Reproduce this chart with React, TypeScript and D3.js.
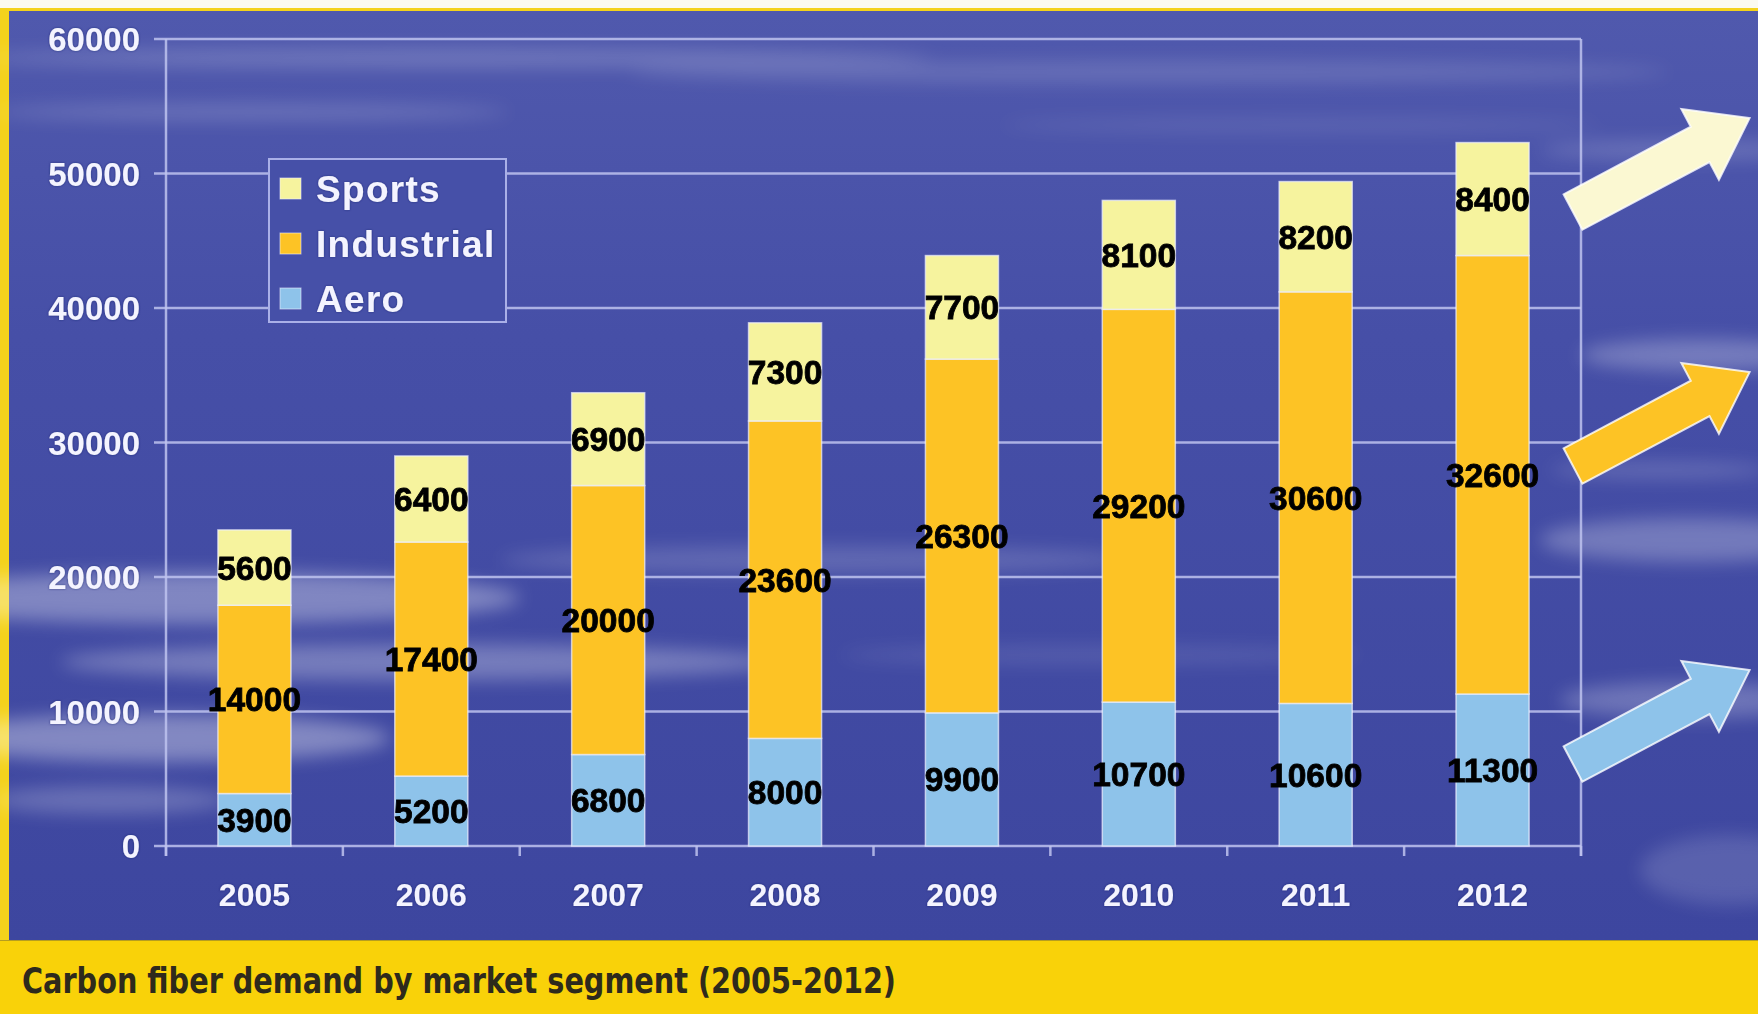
import React from 'react';
import * as d3 from 'd3';

const years = ['2005', '2006', '2007', '2008', '2009', '2010', '2011', '2012'];
const aero = [3900, 5200, 6800, 8000, 9900, 10700, 10600, 11300];
const industrial = [14000, 17400, 20000, 23600, 26300, 29200, 30600, 32600];
const sports = [5600, 6400, 6900, 7300, 7700, 8100, 8200, 8400];
const seriesKeys = ['Aero', 'Industrial', 'Sports'];
const legendOrder = ['Sports', 'Industrial', 'Aero'];
const yTicks = [0, 10000, 20000, 30000, 40000, 50000, 60000];
const caption = 'Carbon fiber demand by market segment (2005-2012)';

const colors: Record<string, string> = {
  Aero: '#8ec3ea',
  Industrial: '#fdc325',
  Sports: '#f6f39e',
};
const arrowColors: Record<string, string> = {
  Sports: '#fbf8d2',
  Industrial: '#fdc325',
  Aero: '#8ec3ea',
};

const W = 1758;
const H = 1014;
const plot = { left: 166, right: 1581, top: 39, bottom: 846 };

// decorative cloud streaks (background texture)
const clouds = [
  { cx: 450, cy: 58, rx: 480, ry: 9, o: 0.2 },
  { cx: 250, cy: 112, rx: 260, ry: 8, o: 0.18 },
  { cx: 1150, cy: 72, rx: 520, ry: 11, o: 0.14 },
  { cx: 1300, cy: 125, rx: 300, ry: 7, o: 0.1 },
  { cx: 1680, cy: 150, rx: 140, ry: 9, o: 0.18 },
  { cx: 200, cy: 598, rx: 320, ry: 26, o: 0.33 },
  { cx: 420, cy: 662, rx: 360, ry: 18, o: 0.28 },
  { cx: 160, cy: 738, rx: 230, ry: 24, o: 0.35 },
  { cx: 110, cy: 800, rx: 120, ry: 14, o: 0.22 },
  { cx: 820, cy: 560, rx: 320, ry: 14, o: 0.16 },
  { cx: 1100, cy: 655, rx: 260, ry: 10, o: 0.1 },
  { cx: 1700, cy: 355, rx: 120, ry: 16, o: 0.26 },
  { cx: 1690, cy: 540, rx: 150, ry: 22, o: 0.26 },
  { cx: 1690, cy: 700, rx: 130, ry: 18, o: 0.24 },
  { cx: 1660, cy: 470, rx: 110, ry: 8, o: 0.18 },
  { cx: 1730, cy: 870, rx: 90, ry: 35, o: 0.14 },
];

function arrowPath(tx: number, ty: number, angleDeg: number, len: number, shaft: number, headW: number, headL: number) {
  const a = (angleDeg * Math.PI) / 180;
  const ux = Math.cos(a), uy = Math.sin(a);
  const px = -uy, py = ux;
  const p = (along: number, side: number) => [tx + ux * along + px * side, ty + uy * along + py * side];
  const pts = [
    p(0, -shaft / 2),
    p(len - headL, -shaft / 2),
    p(len - headL, -headW / 2),
    p(len, 0),
    p(len - headL, headW / 2),
    p(len - headL, shaft / 2),
    p(0, shaft / 2),
  ];
  return d3.line()(pts as [number, number][]) + 'Z';
}

export default function App() {
  const x = d3.scaleBand<string>().domain(years).range([plot.left, plot.right]).paddingInner(0.587).paddingOuter(0.2935);
  const y = d3.scaleLinear().domain([0, 60000]).range([plot.bottom, plot.top]);
  const rows = years.map((yr, i) => ({ year: yr, Aero: aero[i], Industrial: industrial[i], Sports: sports[i] }));
  const stacked = d3.stack<any>().keys(seriesKeys)(rows);
  const step = x.step();
  const bandEdges = d3.range(years.length + 1).map((i) => plot.left + i * step);

  const arrowY: Record<string, number> = { Sports: 212, Industrial: 466, Aero: 764 };

  const font = '"Liberation Sans", Arial, sans-serif';

  return (
    <svg width={W} height={H} style={{ position: 'absolute', left: 0, top: 0 }} xmlns="http://www.w3.org/2000/svg">
      <defs>
        <linearGradient id="bg" x1="0" y1="0" x2="0" y2="1">
          <stop offset="0" stopColor="#5059ad" />
          <stop offset="0.35" stopColor="#464fa7" />
          <stop offset="1" stopColor="#3d469f" />
        </linearGradient>
        <filter id="blur" x="-50%" y="-200%" width="200%" height="500%">
          <feGaussianBlur stdDeviation="9" />
        </filter>
        <filter id="glow" x="-10%" y="-30%" width="120%" height="160%">
          <feGaussianBlur in="SourceAlpha" stdDeviation="1.2" result="b" />
          <feFlood floodColor="#1a1f60" floodOpacity="0.6" />
          <feComposite in2="b" operator="in" result="s" />
          <feMerge>
            <feMergeNode in="s" />
            <feMergeNode in="SourceGraphic" />
          </feMerge>
        </filter>
      </defs>
      {/* frame */}
      <rect x={0} y={0} width={W} height={H} fill="#fbfaf0" />
      <rect x={0} y={8} width={W} height={H - 8} fill="#f4d21c" />
      <rect x={9} y={11} width={W - 9} height={940 - 11} fill="url(#bg)" />
      <g filter="url(#blur)">
        {clouds.map((c, i) => (
          <ellipse key={i} cx={c.cx} cy={c.cy} rx={c.rx} ry={c.ry} fill="#ffffff" opacity={c.o} />
        ))}
      </g>
      {/* caption band */}
      <rect x={0} y={940} width={W} height={H - 940} fill="#f9d209" />
      <line x1={0} x2={W} y1={940.5} y2={940.5} stroke="#8a7a30" strokeWidth={1} opacity={0.6} />
      <text x={22} y={993} fontFamily='"DejaVu Sans Condensed", "DejaVu Sans", sans-serif' fontWeight="bold" fontSize={35} fill="#2e2a1c" textLength={874} lengthAdjust="spacingAndGlyphs">
        {caption}
      </text>

      {/* gridlines */}
      {yTicks.map((t) => (
        <line key={t} x1={plot.left - 12} x2={plot.right} y1={y(t)} y2={y(t)} stroke="#bfc3ef" strokeWidth={2.5} opacity={0.85} />
      ))}
      <line x1={plot.left} x2={plot.left} y1={plot.top} y2={plot.bottom + 10} stroke="#bfc3ef" strokeWidth={2.5} opacity={0.85} />
      <line x1={plot.right} x2={plot.right} y1={plot.top} y2={plot.bottom + 10} stroke="#bfc3ef" strokeWidth={2.5} opacity={0.85} />
      {bandEdges.map((bx, i) => (
        <line key={i} x1={bx} x2={bx} y1={plot.bottom} y2={plot.bottom + 10} stroke="#bfc3ef" strokeWidth={2.5} opacity={0.85} />
      ))}

      {/* y tick labels */}
      {yTicks.map((t) => (
        <text key={t} x={140} y={y(t) + 12} textAnchor="end" fontFamily={font} fontWeight="bold" fontSize={33} fill="#f4f4ff" filter="url(#glow)">
          {t}
        </text>
      ))}
      {/* x labels */}
      {years.map((yr) => (
        <text key={yr} x={(x(yr) as number) + x.bandwidth() / 2} y={906} textAnchor="middle" fontFamily={font} fontWeight="bold" fontSize={32} fill="#f4f4ff" filter="url(#glow)">
          {yr}
        </text>
      ))}

      {/* bars */}
      {stacked.map((s) => (
        <g key={s.key}>
          {s.map((d, i) => (
            <rect
              key={i}
              x={x(years[i])}
              y={y(d[1])}
              width={x.bandwidth()}
              height={y(d[0]) - y(d[1])}
              fill={colors[s.key]}
              stroke="#eef0ff"
              strokeWidth={1.5}
              strokeOpacity={0.7}
            />
          ))}
        </g>
      ))}
      {/* data labels */}
      {stacked.map((s) => (
        <g key={'l' + s.key}>
          {s.map((d, i) => (
            <text
              key={i}
              x={(x(years[i]) as number) + x.bandwidth() / 2}
              y={y((d[0] + d[1]) / 2) + 12}
              textAnchor="middle"
              fontFamily={font}
              fontWeight="bold"
              fontSize={33.5}
              fill="#000"
              stroke="#000"
              strokeWidth={0.8}
            >
              {d[1] - d[0]}
            </text>
          ))}
        </g>
      ))}

      {/* legend */}
      <rect x={269} y={159} width={237} height={163} fill="#4650a8" stroke="#aab0e8" strokeWidth={2} />
      {legendOrder.map((k, i) => (
        <g key={k} transform={`translate(280, ${178 + i * 55})`}>
          <rect x={0} y={0} width={21} height={21} fill={colors[k]} stroke="#eef0ff" strokeWidth={1} strokeOpacity={0.6} />
          <text x={36} y={24} fontFamily={font} fontWeight="bold" fontSize={37} letterSpacing={1.3} fill="#f4f4ff" filter="url(#glow)">
            {k}
          </text>
        </g>
      ))}

      {/* trend arrows */}
      {legendOrder.map((k) => (
        <path
          key={'a' + k}
          d={arrowPath(plot.right - 8, arrowY[k], -28, 200, 40, 80, 56)}
          fill={arrowColors[k]}
          stroke="#ffffff"
          strokeWidth={2}
          strokeOpacity={0.8}
        />
      ))}
    </svg>
  );
}
